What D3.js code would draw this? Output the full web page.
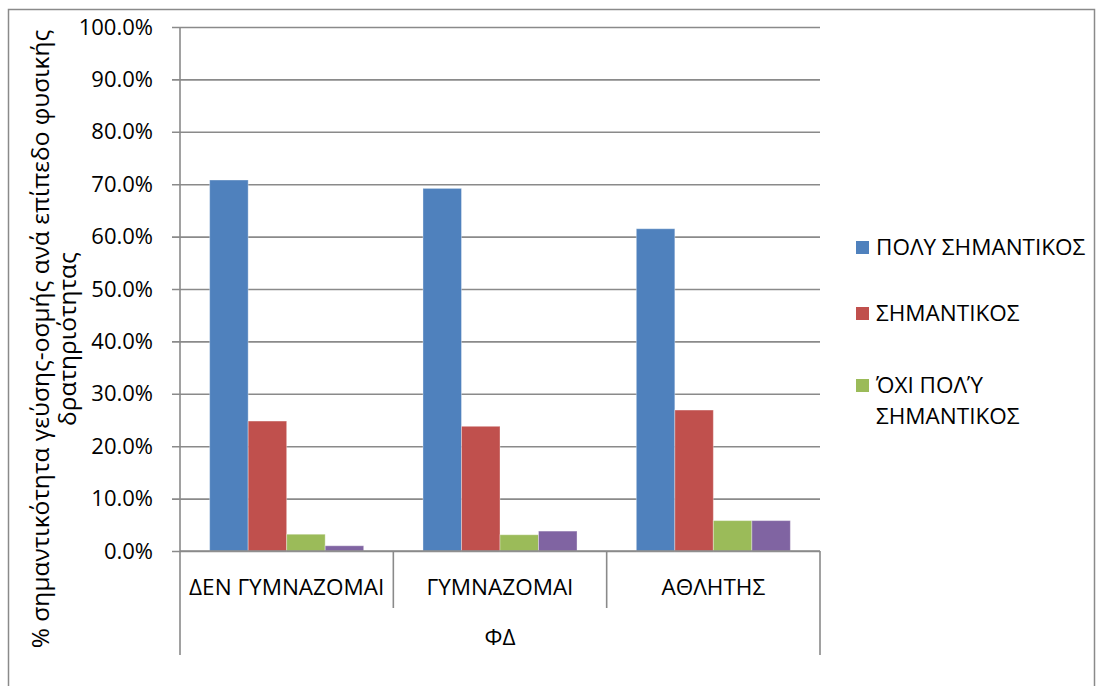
<!DOCTYPE html>
<html>
<head>
<meta charset="utf-8">
<script src="https://cdn.jsdelivr.net/npm/d3@7"></script>
<style>
  body { margin: 0; background: #fff; }
  text { font-family: "Open Sans", "Noto Sans", sans-serif; fill: #000; }
</style>
</head>
<body>
<svg id="chart" width="1103" height="686"></svg>
<script>
var categories = ["ΔΕΝ ΓΥΜΝΑΖΟΜΑΙ", "ΓΥΜΝΑΖΟΜΑΙ", "ΑΘΛΗΤΗΣ"];
var seriesNames = ["ΠΟΛΥ ΣΗΜΑΝΤΙΚΟΣ", "ΣΗΜΑΝΤΙΚΟΣ", "ΌΧΙ ΠΟΛΎ ΣΗΜΑΝΤΙΚΟΣ", "ΚΑΘΟΛΟΥ ΣΗΜΑΝΤΙΚΟΣ"];
var colors = ["#4F81BD", "#C0504D", "#9BBB59", "#8064A2"];
var poly = [0.708, 0.692, 0.615];
var simantikos = [0.248, 0.238, 0.269];
var oxiPoly = [0.032, 0.031, 0.058];
var katholou = [0.010, 0.038, 0.058];
var yTicks = [0, 0.1, 0.2, 0.3, 0.4, 0.5, 0.6, 0.7, 0.8, 0.9, 1.0];
var legendLines = [["ΠΟΛΥ ΣΗΜΑΝΤΙΚΟΣ"], ["ΣΗΜΑΝΤΙΚΟΣ"], ["ΌΧΙ ΠΟΛΎ", "ΣΗΜΑΝΤΙΚΟΣ"]];
var xTitle = "ΦΔ";
var yTitle = ["% σημαντικότητα γεύσης-οσμής ανά επίπεδο φυσικής", "δρατηριότητας"];

var values = [poly, simantikos, oxiPoly, katholou];
var plotLeft = 180, plotRight = 820, plotTop = 27, plotBottom = 551;
var gray = "#8a8a8a";

var svg = d3.select("#chart");

// outer frame
svg.append("rect")
  .attr("x", 8.5).attr("y", 9.5)
  .attr("width", 1086).attr("height", 700)
  .attr("fill", "none").attr("stroke", gray).attr("stroke-width", 1.5);

var y = d3.scaleLinear().domain([0, 1]).range([plotBottom, plotTop]);
var x0 = d3.scaleBand().domain(categories).range([plotLeft, plotRight]).paddingInner(0).paddingOuter(0);
var x1 = d3.scaleBand().domain(d3.range(seriesNames.length))
  .range([0, x0.bandwidth()]).paddingOuter(0.77).paddingInner(0);

// gridlines + y axis
var yAxis = d3.axisLeft(y).tickValues(yTicks).tickFormat(d3.format(".1%"))
  .tickSize(-(plotRight - plotLeft + 8)).tickPadding(19);
var gy = svg.append("g").attr("transform", "translate(" + (plotLeft - 8) + ",0)").call(yAxis);
gy.select(".domain").remove();
gy.selectAll(".tick line").attr("stroke", gray).attr("stroke-width", 1.6);
gy.selectAll(".tick text").style("font-size", "22px").style("font-family", "'Open Sans', sans-serif").attr("fill", "#000");

svg.append("line")
  .attr("x1", plotLeft).attr("x2", plotLeft).attr("y1", plotTop).attr("y2", 655)
  .attr("stroke", gray).attr("stroke-width", 1.6);

// bars
var groups = svg.append("g").selectAll("g")
  .data(categories).join("g")
  .attr("transform", function(d) { return "translate(" + x0(d) + ",0)"; });

groups.selectAll("rect")
  .data(function(d, i) {
    return values.map(function(v, s) { return { s: s, v: v[i] }; });
  })
  .join("rect")
  .attr("x", function(d) { return x1(d.s); })
  .attr("width", x1.bandwidth())
  .attr("y", function(d) { return y(d.v); })
  .attr("height", function(d) { return plotBottom - y(d.v); })
  .attr("fill", function(d) { return colors[d.s]; })
  .attr("stroke", "rgba(255,255,255,0.35)").attr("stroke-width", 1);

// x axis line and separators
svg.append("line")
  .attr("x1", plotLeft).attr("x2", plotRight).attr("y1", plotBottom).attr("y2", plotBottom)
  .attr("stroke", gray).attr("stroke-width", 1.6);

categories.forEach(function(c, i) {
  if (i > 0) {
    svg.append("line")
      .attr("x1", x0(c)).attr("x2", x0(c)).attr("y1", plotBottom).attr("y2", 608)
      .attr("stroke", gray).attr("stroke-width", 1.6);
  }
  svg.append("text")
    .attr("x", x0(c) + x0.bandwidth() / 2).attr("y", 595)
    .attr("text-anchor", "middle").style("font-size", "22.5px")
    .text(c);
});
svg.append("line")
  .attr("x1", plotRight).attr("x2", plotRight).attr("y1", plotBottom).attr("y2", 655)
  .attr("stroke", gray).attr("stroke-width", 1.6);

svg.append("text")
  .attr("x", (plotLeft + plotRight) / 2).attr("y", 645)
  .attr("text-anchor", "middle").style("font-size", "22.5px")
  .text(xTitle);

// y title
yTitle.forEach(function(t, i) {
  svg.append("text")
    .attr("transform", "translate(" + (49 + i * 27) + ",339) rotate(-90)")
    .attr("text-anchor", "middle").style("font-size", "24.5px")
    .text(t);
});

// legend (first three series)
var legendY = [247, 313, 385];
legendLines.forEach(function(lines, i) {
  svg.append("rect")
    .attr("x", 856).attr("y", legendY[i] - 6)
    .attr("width", 13).attr("height", 13)
    .attr("fill", colors[i]);
  lines.forEach(function(l, j) {
    svg.append("text")
      .attr("x", 876).attr("y", legendY[i] + 8 + j * 31)
      .style("font-size", "22.5px")
      .text(l);
  });
});
</script>
</body>
</html>
